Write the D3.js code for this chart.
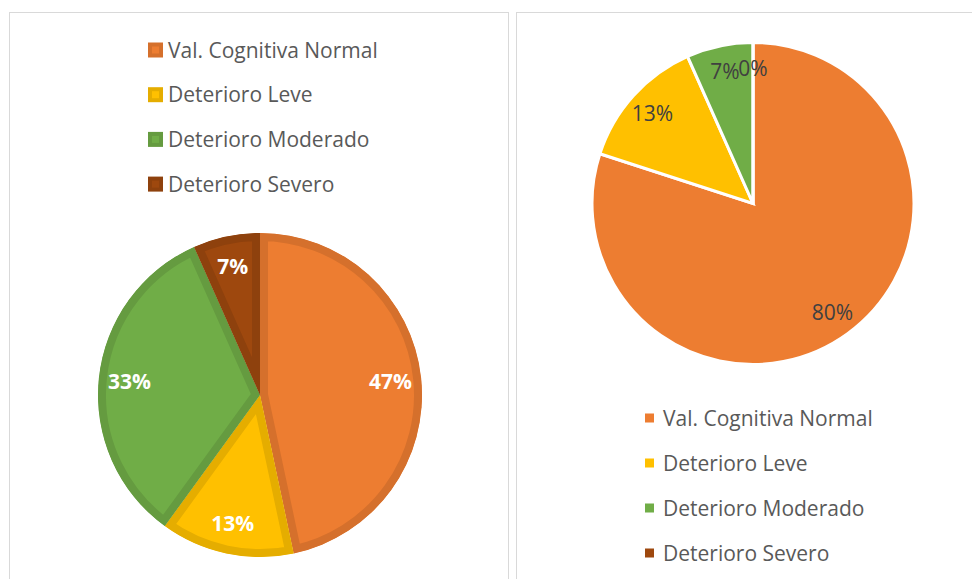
<!DOCTYPE html>
<html>
<head>
<meta charset="utf-8">
<script src="https://cdn.jsdelivr.net/npm/d3@7"></script>
<style>
  body { margin: 0; background: #fff; }
  text { font-family: "Open Sans", sans-serif; }
</style>
</head>
<body>
<script>
'use strict';

const categories = ['Val. Cognitiva Normal', 'Deterioro Leve', 'Deterioro Moderado', 'Deterioro Severo'];
const colors = ['#ED7D31', '#FFC000', '#70AD47', '#9E480E'];
const leftValues = [7, 2, 5, 1];
const rightValues = [12, 2, 1, 0];

const width = 972;
const height = 579;

const svg = d3.select('body').append('svg')
  .attr('width', width)
  .attr('height', height);

// panel frames
svg.append('rect')
  .attr('x', 9.5).attr('y', 12.5)
  .attr('width', 499).attr('height', 600)
  .attr('fill', 'none').attr('stroke', '#d9d9d9');
svg.append('rect')
  .attr('x', 516.5).attr('y', 12.5)
  .attr('width', 500).attr('height', 600)
  .attr('fill', 'none').attr('stroke', '#d9d9d9');

const color = d3.scaleOrdinal().domain(categories).range(colors);
const pie = d3.pie().sort(null).value((d) => d.value);
const fmt = d3.format('.0%');

function pieData(values) {
  const total = d3.sum(values);
  return pie(categories.map((c, i) => ({ name: c, value: values[i], share: values[i] / total })));
}

// ---- left chart: thick darker inner borders, white bold labels
function drawLeft() {
  const cx = 260, cy = 395, r = 162;
  const arc = d3.arc().innerRadius(0).outerRadius(r);
  const labelArc = d3.arc().innerRadius(r * 0.81).outerRadius(r * 0.81);
  const g = svg.append('g').attr('transform', `translate(${cx},${cy})`);
  const slices = pieData(leftValues);

  const defs = svg.append('defs');
  defs.selectAll('clipPath')
    .data(slices)
    .enter().append('clipPath')
    .attr('id', (d, i) => 'clip' + i)
    .append('path')
    .attr('d', arc);

  g.selectAll('path.slice')
    .data(slices)
    .enter().append('path')
    .attr('class', 'slice')
    .attr('d', arc)
    .attr('clip-path', (d, i) => `url(#clip${i})`)
    .attr('fill', (d) => color(d.data.name))
    .attr('stroke', (d) => d3.color(color(d.data.name)).darker(0.3))
    .attr('stroke-width', 16)
    .attr('stroke-linejoin', 'miter');

  g.selectAll('text.lbl')
    .data(slices)
    .enter().append('text')
    .attr('class', 'lbl')
    .attr('transform', (d) => `translate(${labelArc.centroid(d)})`)
    .attr('text-anchor', 'middle')
    .attr('dy', '0.36em')
    .attr('fill', '#fff')
    .attr('font-weight', 'bold')
    .attr('font-size', 21)
    .text((d) => fmt(d.data.share));

  const leg = svg.append('g').attr('transform', 'translate(148,50)');
  const item = leg.selectAll('g')
    .data(categories)
    .enter().append('g')
    .attr('transform', (d, i) => `translate(0,${i * 44.7})`);
  item.append('rect')
    .attr('x', 2).attr('y', -5.5)
    .attr('width', 11).attr('height', 11)
    .attr('fill', (d) => color(d))
    .attr('stroke', (d) => d3.color(color(d)).darker(0.3))
    .attr('stroke-width', 4);
  item.append('text')
    .attr('x', 20)
    .attr('dy', '0.36em')
    .attr('font-size', 21)
    .attr('fill', '#595959')
    .text((d) => d);
}

// ---- right chart: white separators, dark labels
function drawRight() {
  const cx = 753, cy = 203.5, r = 161;
  const arc = d3.arc().innerRadius(0).outerRadius(r);
  const labelArc = d3.arc().innerRadius(r * 0.84).outerRadius(r * 0.84);
  const g = svg.append('g').attr('transform', `translate(${cx},${cy})`);
  const slices = pieData(rightValues);

  g.selectAll('path')
    .data(slices)
    .enter().append('path')
    .attr('d', arc)
    .attr('fill', (d) => color(d.data.name))
    .attr('stroke', '#fff')
    .attr('stroke-width', 3);

  g.selectAll('text')
    .data(slices)
    .enter().append('text')
    .attr('transform', (d) => `translate(${labelArc.centroid(d)})`)
    .attr('text-anchor', 'middle')
    .attr('dy', '0.36em')
    .attr('fill', '#404040')
    .attr('font-size', 21)
    .text((d) => fmt(d.data.share));

  const leg = svg.append('g').attr('transform', 'translate(645,418)');
  const item = leg.selectAll('g')
    .data(categories)
    .enter().append('g')
    .attr('transform', (d, i) => `translate(0,${i * 45})`);
  item.append('rect')
    .attr('x', 0).attr('y', -4.5)
    .attr('width', 9).attr('height', 9)
    .attr('fill', (d) => color(d));
  item.append('text')
    .attr('x', 18)
    .attr('dy', '0.36em')
    .attr('font-size', 21)
    .attr('fill', '#595959')
    .text((d) => d);
}

drawLeft();
drawRight();
</script>
</body>
</html>
